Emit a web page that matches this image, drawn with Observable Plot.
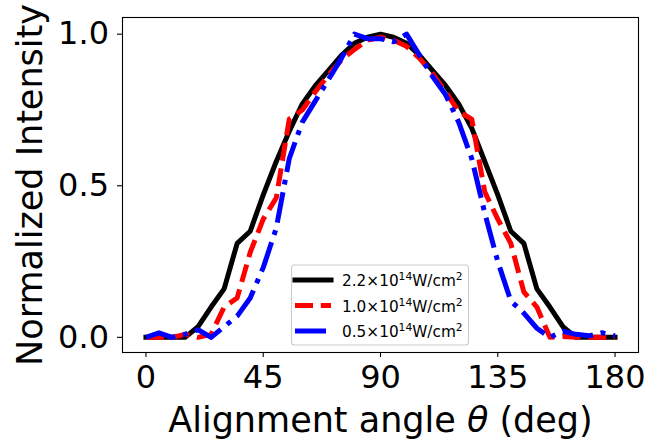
<!DOCTYPE html>
<html>
<head>
<meta charset="utf-8">
<script src="https://cdn.jsdelivr.net/npm/d3@7"></script>
<script src="https://cdn.jsdelivr.net/npm/@observablehq/plot@0.6"></script>
<style>
  html, body { margin: 0; padding: 0; background: white; }
  #chart { width: 649px; height: 445px; }
</style>
</head>
<body>
<div id="chart"></div>
<script>
// ---- data ----
const angles = [0, 5, 10, 15, 20, 25, 30, 35, 40, 45, 50, 55, 60, 65, 70, 75, 80, 85, 90,
                95, 100, 105, 110, 115, 120, 125, 130, 135, 140, 145, 150, 155, 160, 165, 170, 175, 180];
const black22 = [0, 0, 0, 0, 0.035, 0.10, 0.16, 0.31, 0.35, 0.47, 0.58, 0.68, 0.77, 0.83, 0.88, 0.93, 0.97, 0.99, 1.0,
                 0.99, 0.97, 0.93, 0.88, 0.83, 0.77, 0.69, 0.58, 0.47, 0.35, 0.31, 0.16, 0.10, 0.035, 0, 0, 0, 0];
const red10 = [0, 0, 0, 0.01, 0, 0.01, 0.10, 0.13, 0.28, 0.39, 0.46, 0.72, 0.75, 0.81, 0.865, 0.915, 0.95, 0.98, 0.99,
               0.98, 0.96, 0.92, 0.87, 0.81, 0.745, 0.72, 0.48, 0.39, 0.31, 0.15, 0.10, 0, 0.003, 0, 0, 0, 0];
const blue05 = [0, 0.015, 0, 0.01, 0.025, 0, 0.035, 0.07, 0.13, 0.23, 0.36, 0.59, 0.71, 0.78, 0.85, 0.92, 1.0, 0.985, 0.985,
                0.975, 1.0, 0.93, 0.86, 0.80, 0.71, 0.59, 0.41, 0.25, 0.12, 0.08, 0.03, 0, 0.02, 0.01, 0.005, 0.015, 0.005];
const xTicks = [0, 45, 90, 135, 180];
const yTicks = [0, 0.5, 1.0];
const xLabel = "Alignment angle θ (deg)";
const yLabel = "Normalized Intensity";
const seriesNames = ["2.2×10|14|W/cm|2", "1.0×10|14|W/cm|2", "0.5×10|14|W/cm|2"];
const seriesColors = ["#000000", "#ff0000", "#0000ff"];

// ---- build tables ----
const toRows = (vals) => angles.map((a, i) => ({angle: a, value: vals[i]}));
const rowsBlack = toRows(black22);
const rowsRed = toRows(red10);
const rowsBlue = toRows(blue05);

const LW = 5;
const dashes = [null, "18,7.8", "31,7.8,4.9,7.8"];

const svg = Plot.plot({
  width: 649,
  height: 445,
  marginLeft: 122,
  marginRight: 11,
  marginTop: 17,
  marginBottom: 93,
  style: {fontFamily: "DejaVu Sans", background: "white", color: "black", overflow: "visible"},
  x: {domain: [-9, 189]},
  y: {domain: [-0.05, 1.055]},
  marks: [
    Plot.line(rowsBlack, {x: "angle", y: "value", stroke: seriesColors[0], strokeWidth: LW, strokeLinejoin: "round", strokeLinecap: "square"}),
    Plot.line(rowsRed, {x: "angle", y: "value", stroke: seriesColors[1], strokeWidth: LW, strokeDasharray: dashes[1], strokeLinejoin: "round", strokeLinecap: "butt"}),
    Plot.line(rowsBlue, {x: "angle", y: "value", stroke: seriesColors[2], strokeWidth: LW, strokeDasharray: dashes[2], strokeLinejoin: "round", strokeLinecap: "butt"}),
    Plot.frame({stroke: "black", strokeWidth: 1.1}),
    Plot.axisX({ticks: xTicks, tickSize: 5, tickPadding: 8, fontSize: 32, label: null, strokeWidth: 1.1}),
    Plot.axisY({ticks: yTicks, tickFormat: d3.format(".1f"), tickSize: 5, tickPadding: 8.5, fontSize: 32, label: null, strokeWidth: 1.1}),
    Plot.text([xLabel], {frameAnchor: "bottom", lineAnchor: "middle", textAnchor: "middle", dy: 68, fontSize: 35, fill: "black"}),
    Plot.text([yLabel], {frameAnchor: "left", lineAnchor: "middle", textAnchor: "middle", dx: -91.5, rotate: -90, fontSize: 35, fill: "black"})
  ]
});

document.getElementById("chart").appendChild(svg);

// italic theta in the x label (as matplotlib mathtext)
d3.select(svg).selectAll("text").filter(function () { return this.textContent === xLabel; })
  .each(function () {
    const t = d3.select(this);
    t.text(null);
    t.append("tspan").text("Alignment angle ");
    t.append("tspan").attr("font-style", "italic").text("θ");
    t.append("tspan").text(" (deg)");
  });

// legend (drawn inside the axes, like matplotlib)
const lg = d3.select(svg).append("g").attr("class", "legend");
lg.append("rect")
  .attr("x", 291.5).attr("y", 265).attr("width", 177).attr("height", 80).attr("rx", 3)
  .attr("fill", "white").attr("fill-opacity", 0.8).attr("stroke", "#cccccc").attr("stroke-width", 1.1);
seriesNames.forEach((name, i) => {
  const yy = 280 + i * 25.5;
  const ln = lg.append("line")
    .attr("x1", 295).attr("x2", 331).attr("y1", yy).attr("y2", yy)
    .attr("stroke", seriesColors[i]).attr("stroke-width", LW)
    .attr("stroke-linecap", i === 0 ? "square" : "butt");
  if (dashes[i]) ln.attr("stroke-dasharray", dashes[i]);
  const parts = name.split("|");
  const t = lg.append("text").attr("x", 342).attr("y", yy + 6)
    .attr("text-anchor", "start")
    .attr("font-family", "DejaVu Sans").attr("font-size", 15.3).attr("fill", "black");
  t.append("tspan").text(parts[0]);
  t.append("tspan").attr("font-size", 10.7).attr("dy", -6).text(parts[1]);
  t.append("tspan").attr("dy", 6).text(parts[2]);
  t.append("tspan").attr("font-size", 10.7).attr("dy", -6).text(parts[3]);
});
</script>
</body>
</html>
